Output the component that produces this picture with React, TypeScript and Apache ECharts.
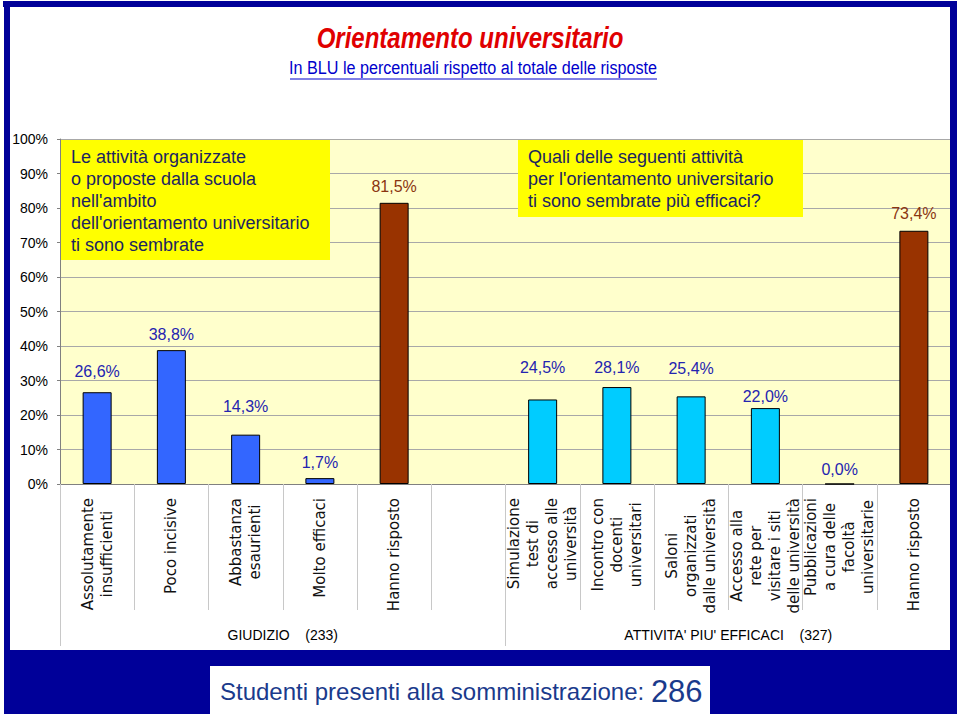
import React, { useEffect, useRef } from 'react';
import * as echarts from 'echarts';

// ---- data ----
const categories = [
  'Assolutamente\ninsufficienti',
  'Poco incisive',
  'Abbastanza\nesaurienti',
  'Molto efficaci',
  'Hanno risposto',
  '',
  'Simulazione\ntest di\naccesso alle\nuniversità',
  'Incontro con\ndocenti\nuniversitari',
  'Saloni\norganizzati\ndalle università',
  'Accesso alla\nrete per\nvisitare i siti\ndelle università',
  'Pubblicazioni\na cura delle\nfacoltà\nuniversitarie',
  'Hanno risposto',
];
const values: (number | null)[] = [26.6, 38.8, 14.3, 1.7, 81.5, null, 24.5, 28.1, 25.4, 22.0, 0.0, 73.4];
const barKinds = ['giudizio', 'giudizio', 'giudizio', 'giudizio', 'totale', '', 'attivita', 'attivita', 'attivita', 'attivita', 'attivita', 'totale'];
const groupLabels = ['GIUDIZIO    (233)', "ATTIVITA' PIU' EFFICACI    (327)"];
const yMin = 0;
const yMax = 100;
const yStep = 10;
const title = 'Orientamento universitario';
const subtitle = 'In BLU le percentuali rispetto al totale delle risposte';
const boxLeftText = "Le attività organizzate\no proposte dalla scuola\nnell'ambito\ndell'orientamento universitario\nti sono sembrate";
const boxRightText = "Quali delle seguenti attività\nper l'orientamento universitario\nti sono sembrate più efficaci?";
const studentiLabel = 'Studenti presenti alla somministrazione: ';
const studentiTotale = 286;

// ---- styles ----
const labelGap = [13, 8, 20, 8, 8, 0, 24, 12, 20, 4, 6, 9];
const kindColor: Record<string, string> = { giudizio: '#3366FF', attivita: '#00CCFF', totale: '#993300' };
const kindLabelColor: Record<string, string> = { giudizio: '#2424B0', attivita: '#2424B0', totale: '#8A3510' };
const SANS = "'Liberation Sans', Arial, sans-serif";
const FRAME = '#000099';
const BOXTEXT = '#1C2560';

export default function App() {
  const ref = useRef<HTMLDivElement>(null);
  useEffect(() => {
    if (!ref.current) return;
    const chart = echarts.init(ref.current, undefined, { renderer: 'svg' });
    const fmt = (v: number) => v.toFixed(1).replace('.', ',') + '%';
    const option: any = {
      animation: false,
      backgroundColor: '#FFFFFF',
      grid: {
        left: 60, right: 9, top: 139, bottom: 232,
        show: true, backgroundColor: '#FFFFCC', borderWidth: 0,
      },
      xAxis: [
        {
          type: 'category',
          data: categories,
          position: 'bottom',
          axisLine: { show: true, lineStyle: { color: '#808080', width: 1 } },
          axisTick: { show: true, length: 126, interval: 0, lineStyle: { color: '#C8C8C8' } },
          axisLabel: {
            interval: 0,
            rotate: 90,
            margin: 14,
            formatter: (v: string) => v.split('\n').map((l) => `{c|${l}}`).join('\n'),
            rich: {
              c: { align: 'center', fontFamily: "'DejaVu Sans', sans-serif", fontSize: 15, lineHeight: 19, color: '#111111' },
            },
          },
        },
        {
          type: 'category',
          data: groupLabels,
          position: 'bottom',
          axisLine: { show: false },
          axisTick: { show: true, length: 162, interval: 0, lineStyle: { color: '#C8C8C8' } },
          axisLabel: { margin: 144, fontFamily: SANS, fontSize: 14, color: '#000000' },
        },
      ],
      yAxis: {
        type: 'value',
        min: yMin, max: yMax, interval: yStep,
        axisLine: { show: true, lineStyle: { color: '#808080' } },
        axisTick: { show: true, length: 3, lineStyle: { color: '#808080' } },
        axisLabel: { formatter: (v: number) => `${v}%`, margin: 12, fontFamily: SANS, fontSize: 14, color: '#000000' },
        splitLine: { show: true, lineStyle: { color: '#A8A8A8', width: 1 } },
      },
      series: [
        {
          type: 'bar',
          xAxisIndex: 0,
          barWidth: 29,
          data: values.map((v, i) =>
            v == null
              ? '-'
              : {
                  value: v,
                  itemStyle: { color: kindColor[barKinds[i]], borderColor: '#000000', borderWidth: 1 },
                  label: { distance: labelGap[i], color: kindLabelColor[barKinds[i]] },
                }
          ),
          label: {
            show: true,
            position: 'top',
            fontFamily: SANS,
            fontSize: 16,
            formatter: (p: any) => (typeof p.value === 'number' ? fmt(p.value) : ''),
          },
        },
      ],
      graphic: [
        // frame
        { type: 'rect', z: 100, shape: { x: 3, y: 1, width: 954, height: 6 }, style: { fill: FRAME } },
        { type: 'rect', z: 100, shape: { x: 4, y: 1, width: 6, height: 713 }, style: { fill: FRAME } },
        { type: 'rect', z: 100, shape: { x: 950, y: 1, width: 7, height: 713 }, style: { fill: FRAME } },
        { type: 'rect', z: 100, shape: { x: 4, y: 650, width: 953, height: 64 }, style: { fill: FRAME } },
        { type: 'rect', z: 101, shape: { x: 210, y: 666, width: 500, height: 48 }, style: { fill: '#FFFFFF' } },
        {
          type: 'text', z: 102, x: 220, y: 691,
          style: {
            text: `{a|${studentiLabel}}{b|${studentiTotale}}`,
            rich: {
              a: { fontFamily: SANS, fontSize: 24, fill: '#1A3A8C' },
              b: { fontFamily: SANS, fontSize: 31, fill: '#1A3A8C' },
            },
            textVerticalAlign: 'middle',
          },
        },
        // titles (condensed to imitate a narrow face)
        {
          type: 'text', z: 100, x: 470, y: 38, scaleX: 0.8,
          style: { text: title, fontFamily: SANS, fontSize: 30, fontWeight: 'bold', fontStyle: 'italic', fill: '#E00000', textAlign: 'center', textVerticalAlign: 'middle' },
        },
        {
          type: 'text', z: 100, x: 473, y: 68, scaleX: 0.85,
          style: { text: subtitle, fontFamily: SANS, fontSize: 19, fill: '#0000CC', textAlign: 'center', textVerticalAlign: 'middle' },
        },
        { type: 'line', z: 100, shape: { x1: 290, y1: 79, x2: 657, y2: 79 }, style: { stroke: '#0000CC', lineWidth: 1 } },
        // yellow boxes
        { type: 'rect', z: 50, shape: { x: 61, y: 140, width: 269, height: 120 }, style: { fill: '#FFFF00' } },
        {
          type: 'text', z: 51, x: 71, y: 146,
          style: { text: boxLeftText, fontFamily: SANS, fontSize: 18, lineHeight: 22, fill: BOXTEXT, textVerticalAlign: 'top' },
        },
        { type: 'rect', z: 50, shape: { x: 518, y: 140, width: 285, height: 77 }, style: { fill: '#FFFF00' } },
        {
          type: 'text', z: 51, x: 528, y: 146,
          style: { text: boxRightText, fontFamily: SANS, fontSize: 18, lineHeight: 22, fill: BOXTEXT, textVerticalAlign: 'top' },
        },
      ],
    };
    chart.setOption(option);
    return () => chart.dispose();
  }, []);
  return <div ref={ref} style={{ position: 'fixed', left: 0, top: 0, width: 960, height: 716 }} />;
}
